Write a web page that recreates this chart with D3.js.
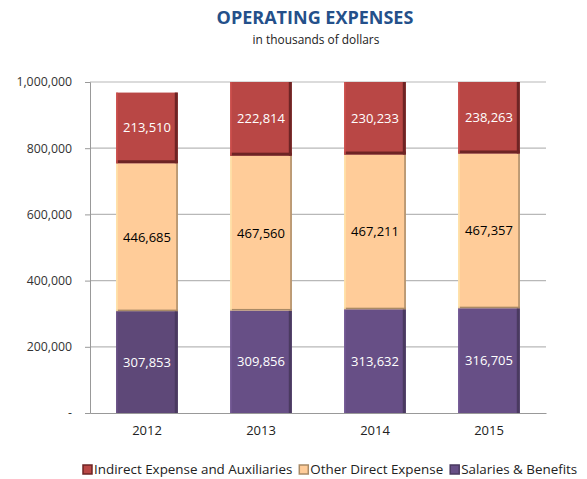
<!DOCTYPE html>
<html>
<head>
<meta charset="utf-8">
<script src="https://cdn.jsdelivr.net/npm/d3@7"></script>
<style>
  body { margin: 0; background: #fff; }
  svg text { font-family: "Open Sans", sans-serif; }
</style>
</head>
<body>
<div id="chart"></div>
<script>
// donnees
const years = ["2012", "2013", "2014", "2015"];
const salaries = [307853, 309856, 313632, 316705];
const otherDirect = [446685, 467560, 467211, 467357];
const indirect = [213510, 222814, 230233, 238263];
const yTicks = [0, 200000, 400000, 600000, 800000, 1000000];
const seriesNames = ["Salaries & Benefits", "Other Direct Expense", "Indirect Expense and Auxiliaries"];

const W = 587, H = 479;
const m = {left: 90, right: 41, top: 82, bottom: 66};

const svg = d3.select("#chart").append("svg").attr("width", W).attr("height", H);

const x = d3.scaleBand().domain(years).range([m.left, W - m.right]).paddingInner(0.46).paddingOuter(0.23);
const y = d3.scaleLinear().domain([0, 1000000]).range([H - m.bottom, m.top]);

const fill = ["#674f86", "#ffcc99", "#b94745"];
const dark = ["#4a3a60", "#a98a66", "#6e2424"];
const txtCol = ["#ffffff", "#000000", "#ffffff"];

// titre
svg.append("text").attr("x", 315).attr("y", 24).attr("text-anchor", "middle")
  .attr("font-size", 18).attr("font-weight", "bold").attr("fill", "#24508a")
  .text("OPERATING EXPENSES");
svg.append("text").attr("x", 316).attr("y", 44).attr("text-anchor", "middle")
  .attr("font-size", 11.9).attr("fill", "#222").text("in thousands of dollars");

// grille
svg.append("g").selectAll("line").data(yTicks.slice(1)).join("line")
  .attr("x1", m.left).attr("x2", W - m.right)
  .attr("y1", d => y(d)).attr("y2", d => y(d))
  .attr("stroke", "#b8b8b8").attr("stroke-width", 1.2);

const clip = svg.append("clipPath").attr("id", "plot").append("rect")
  .attr("x", m.left).attr("y", y(1000000)).attr("width", W - m.right - m.left).attr("height", y(0) - y(1000000));

// empilement
const stack = [salaries, otherDirect, indirect];
const g = svg.append("g").attr("clip-path", "url(#plot)");
years.forEach((yr, i) => {
  let base = 0;
  stack.forEach((s, k) => {
    const v = s[i];
    const y0 = y(base), y1 = y(base + v);
    const bx = x(yr), bw = x.bandwidth();
    const c = (k === 0 && i === 0) ? "#5e4878" : fill[k];
    g.append("rect").attr("x", bx).attr("y", y1).attr("width", bw).attr("height", y0 - y1)
      .attr("fill", c);
    // effet biseau
    const e = k === 1 ? 1.5 : 3;
    g.append("rect").attr("x", bx + bw - e).attr("y", y1).attr("width", e).attr("height", y0 - y1)
      .attr("fill", dark[k]);
    if (k > 0) {
      g.append("rect").attr("x", bx).attr("y", y0 - e).attr("width", bw).attr("height", e)
        .attr("fill", dark[k]);
    }
    g.append("rect").attr("x", bx).attr("y", y1).attr("width", 1.5).attr("height", y0 - y1)
      .attr("fill", d3.color(c).brighter(0.3));
    const ly = (y0 + Math.max(y1, y(1000000))) / 2;
    svg.append("text").attr("x", bx + bw / 2).attr("y", ly).attr("dy", "0.35em")
      .attr("text-anchor", "middle").attr("font-size", 13).attr("fill", txtCol[k])
      .text(d3.format(",")(v));
    base += v;
  });
});

// axes
const yAxis = svg.append("g").attr("transform", `translate(${m.left},0)`)
  .call(d3.axisLeft(y).tickValues(yTicks).tickSize(5).tickPadding(13)
    .tickFormat(d => d === 0 ? "-" : d3.format(",")(d)));
yAxis.select(".domain").attr("stroke", "#999");
yAxis.selectAll(".tick line").attr("stroke", "#999");
yAxis.selectAll("text").attr("font-family", "DejaVu Sans, sans-serif").attr("font-size", 12.3).attr("fill", "#333");

const xAxis = svg.append("g").attr("transform", `translate(0,${y(0)})`)
  .call(d3.axisBottom(x).tickSize(0).tickPadding(13));
xAxis.select(".domain").attr("stroke", "#999");
xAxis.selectAll("text").attr("font-size", 13).attr("fill", "#222");

// legende
const legItems = [2, 1, 0];
let lx = 83;
const leg = svg.append("g");
legItems.forEach(k => {
  leg.append("rect").attr("x", lx).attr("y", 465).attr("width", 9).attr("height", 9)
    .attr("fill", fill[k]).attr("stroke", dark[k]).attr("stroke-width", 1.5);
  const t = leg.append("text").attr("x", lx + 11).attr("y", 474).attr("font-size", 13.4)
    .attr("fill", "#222").text(seriesNames[k]);
  lx += 11 + t.node().getComputedTextLength() + 7;
});
</script>
</body>
</html>
